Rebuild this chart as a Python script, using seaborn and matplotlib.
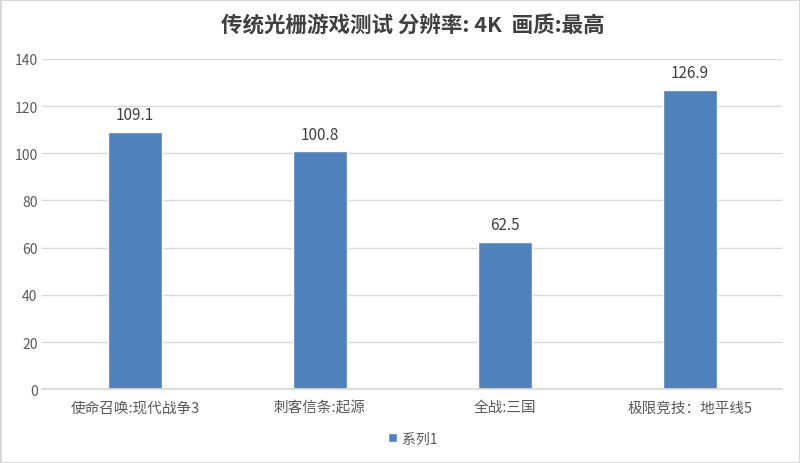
import pandas as pd
import matplotlib.pyplot as plt
import seaborn as sns

# -------------------- DATA --------------------
games = ["使命召唤:现代战争3", "刺客信条:起源", "全战:三国", "极限竞技：地平线5"]
fps = [109.1, 100.8, 62.5, 126.9]
series_name = "系列1"

df = pd.DataFrame({"game": games, "fps": fps, "series": series_name})

# -------------------- STYLE --------------------
sns.set_theme(style="white")
plt.rcParams["font.family"] = ["Noto Sans CJK SC", "DejaVu Sans"]

bar_color = "#4F81BD"
text_color = "#595959"

fig = plt.figure(figsize=(8, 4.64), dpi=100)
fig.patch.set_edgecolor("#D9D9D9")
fig.patch.set_linewidth(2)
ax = fig.add_axes([0.053, 0.159, 0.925, 0.712])

sns.barplot(data=df, x="game", y="fps", hue="series", palette=[bar_color],
            saturation=1, width=0.29, ax=ax, legend=True)

ax.set_ylim(0, 140)
ax.set_yticks(range(0, 141, 20))
ax.yaxis.grid(True, color="#D9D9D9", linewidth=1)
ax.set_axisbelow(True)
for s in ["top", "right", "left"]:
    ax.spines[s].set_visible(False)
ax.spines["bottom"].set_color("#D9D9D9")
ax.tick_params(axis="both", colors=text_color, labelsize=10, length=0)
ax.tick_params(axis="x", pad=8, labelsize=10.5)
ax.set_xlabel("")
ax.set_ylabel("")

for c in ax.containers:
    ax.bar_label(c, fmt="%.1f", padding=6, fontsize=11, color="#404040")

ax.set_title("传统光栅游戏测试 分辨率: 4K  画质:最高", fontsize=15.5, fontweight="bold",
             color="#404040", pad=20)

leg = ax.legend(loc="upper center", bbox_to_anchor=(0.5, -0.09), frameon=False,
                fontsize=10, handlelength=0.7, handleheight=0.7, handletextpad=0.3)
for t in leg.get_texts():
    t.set_color(text_color)

fig.savefig("out.png", dpi=100, edgecolor=fig.get_edgecolor())
